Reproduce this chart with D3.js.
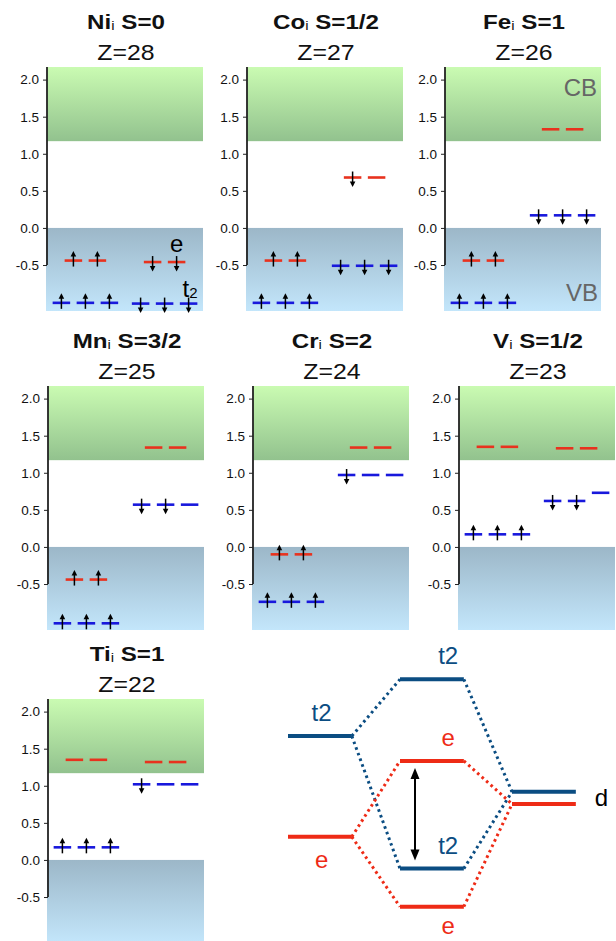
<!DOCTYPE html>
<html>
<head>
<meta charset="utf-8">
<script src="https://cdn.jsdelivr.net/npm/d3@7"></script>
<style>
  body { margin: 0; background: #fff; }
  svg { display: block; font-family: "Liberation Sans", Arial, Helvetica, sans-serif; }
  text { white-space: pre; }
</style>
</head>
<body>
<svg></svg>
<script>
// ---- data ----
const elements = ['Ni', 'Co', 'Fe', 'Mn', 'Cr', 'V', 'Ti'];
const spinLabels = ['0', '1/2', '1', '3/2', '2', '1/2', '1'];
const zValues = [28, 27, 26, 25, 24, 23, 22];

// level energies (eV) per panel
const upT2Energy = [-1.01, -1.01, -1.01, -1.03, -0.74, 0.17, 0.17];
const upEEnergy = [-0.44, -0.44, -0.44, -0.44, -0.10, 1.35, 1.35];
const downT2Energy = [
  [-1.02, -1.02, -1.02],
  [-0.51, -0.51, -0.51],
  [0.17, 0.17, 0.17],
  [0.57, 0.57, 0.57],
  [0.97, 0.97, 0.97],
  [0.62, 0.62, 0.73],
  [1.02, 1.02, 1.02]
];
const downEEnergy = [-0.46, 0.68, 1.33, 1.34, 1.34, 1.33, 1.32];

// number of filled levels (electrons) per group
const upT2Filled = [3, 3, 3, 3, 3, 3, 3];
const upEFilled = [2, 2, 2, 2, 2, 0, 0];
const downT2Filled = [3, 3, 3, 2, 1, 2, 1];
const downEFilled = [2, 1, 0, 0, 0, 0, 0];

const vbTop = 0.0;
const cbBottom = 1.17;
const yDomain = [-1.12, 2.17];
const yTicks = [2.0, 1.5, 1.0, 0.5, 0.0, -0.5];

// schematic MO diagram
const diagKind = ['t2', 'e', 't2', 'e', 't2', 'e', 't2', 'e'];
const diagColumn = [0, 0, 1, 1, 1, 1, 2, 2];
const diagEnergy = [6.8, 3.44, 8.69, 5.97, 2.38, 1.11, 4.94, 4.53];
const diagText = ['t2', 'e', 't2', 'e', 't2', 'e', 'd', ''];
const diagLinks = [[0, 2], [0, 4], [2, 6], [4, 6], [1, 3], [1, 5], [3, 7], [5, 7]];

// ---- layout ----
const svg = d3.select('svg').attr('width', 616).attr('height', 941);

const panelW = 156, panelH = 244;
const panelLeft = [47, 247, 445, 48, 253, 459, 48];
const panelTop = [67, 67, 67, 386, 386, 386, 699];
const upT2Slot = [0.6, 1.6, 2.6], upESlot = [1.1, 2.1];
const downT2Slot = [3.9, 4.9, 5.9], downESlot = [4.4, 5.4];
const levelHalf = 0.365;

const red = '#e8321e', blue = '#1818dc';

const defs = svg.append('defs');
const cbGrad = defs.append('linearGradient').attr('id', 'cbGrad')
  .attr('x1', 0).attr('y1', 0).attr('x2', 0).attr('y2', 1);
cbGrad.append('stop').attr('offset', '0%').attr('stop-color', '#cafbb2');
cbGrad.append('stop').attr('offset', '100%').attr('stop-color', '#92c28e');
const vbGrad = defs.append('linearGradient').attr('id', 'vbGrad')
  .attr('x1', 0).attr('y1', 0).attr('x2', 0).attr('y2', 1);
vbGrad.append('stop').attr('offset', '0%').attr('stop-color', '#9cb7c8');
vbGrad.append('stop').attr('offset', '100%').attr('stop-color', '#c3e6fb');

function electron(g, cx, cy, dir) {
  // dir = 1 for spin up, -1 for spin down
  const tail = cy + 6 * dir, tip = cy - 9.5 * dir;
  g.append('line')
    .attr('x1', cx).attr('x2', cx)
    .attr('y1', tail).attr('y2', tip + 3 * dir)
    .attr('stroke', '#000').attr('stroke-width', 1.5);
  g.append('path')
    .attr('d', `M${cx},${tip} L${cx - 2.8},${tip + 5.5 * dir} L${cx + 2.8},${tip + 5.5 * dir} Z`)
    .attr('fill', '#000');
}

elements.forEach((el, i) => {
  const g = svg.append('g')
    .attr('transform', `translate(${panelLeft[i]}, ${panelTop[i]})`);

  const x = d3.scaleLinear().domain([0, 6.5]).range([0, panelW]);
  const y = d3.scaleLinear().domain(yDomain).range([panelH, 0]);

  // bands
  g.append('rect')
    .attr('x', 0).attr('y', y(yDomain[1]))
    .attr('width', panelW).attr('height', y(cbBottom) - y(yDomain[1]))
    .attr('fill', 'url(#cbGrad)');
  g.append('rect')
    .attr('x', -1).attr('y', y(vbTop))
    .attr('width', panelW + 1).attr('height', y(yDomain[0]) - y(vbTop))
    .attr('fill', 'url(#vbGrad)');

  // axis
  const yAxis = d3.axisLeft(y)
    .tickValues(yTicks)
    .tickSize(4)
    .tickPadding(4)
    .tickFormat(d => d3.format('.1f')(d).replace('\u2212', '-'));
  const yAxisG = g.append('g').call(yAxis);
  yAxisG.select('.domain').remove();
  yAxisG.selectAll('.tick line').attr('stroke', '#222');
  yAxisG.selectAll('.tick text')
    .attr('font-size', 13.5)
    .attr('font-family', '"Liberation Sans", Arial, sans-serif')
    .attr('fill', '#111');
  g.append('line')
    .attr('x1', 0).attr('x2', 0)
    .attr('y1', y(yDomain[1])).attr('y2', y(-0.5))
    .attr('stroke', '#222').attr('stroke-width', 1.8);

  // levels
  const levels = [];
  upT2Slot.forEach((s, k) => levels.push({ s, e: upT2Energy[i], c: blue, occ: k < upT2Filled[i], dir: 1 }));
  upESlot.forEach((s, k) => levels.push({ s, e: upEEnergy[i], c: red, occ: k < upEFilled[i], dir: 1 }));
  downT2Slot.forEach((s, k) => levels.push({ s, e: downT2Energy[i][k], c: blue, occ: k < downT2Filled[i], dir: -1 }));
  downESlot.forEach((s, k) => levels.push({ s, e: downEEnergy[i], c: red, occ: k < downEFilled[i], dir: -1 }));

  g.selectAll('line.level')
    .data(levels)
    .enter().append('line')
    .attr('class', 'level')
    .attr('x1', d => x(d.s - levelHalf))
    .attr('x2', d => x(d.s + levelHalf))
    .attr('y1', d => y(d.e))
    .attr('y2', d => y(d.e))
    .attr('stroke', d => d.c)
    .attr('stroke-width', 2.6);

  levels.filter(d => d.occ).forEach(d => electron(g, x(d.s), y(d.e), d.dir));

  // titles
  const title = g.append('text')
    .attr('transform', `translate(${panelW / 2 + 1}, -38) scale(1.15, 1)`)
    .attr('text-anchor', 'middle')
    .attr('font-size', 21)
    .attr('font-weight', 'bold')
    .attr('fill', '#111');
  title.append('tspan').text(el);
  title.append('tspan').attr('font-size', 13).attr('font-weight', 'normal').attr('dy', 1).text('i');
  title.append('tspan').attr('dy', -1).text(' S=' + spinLabels[i]);

  g.append('text')
    .attr('transform', `translate(${panelW / 2 + 1}, -7) scale(1.13, 1)`)
    .attr('text-anchor', 'middle')
    .attr('font-size', 22)
    .attr('fill', '#111')
    .text('Z=' + zValues[i]);

  if (i === 0) {
    g.append('text')
      .attr('x', x(downESlot[1])).attr('y', y(downEEnergy[i]) - 10)
      .attr('text-anchor', 'middle')
      .attr('font-size', 24)
      .text('e');
    const t2 = g.append('text')
      .attr('x', x(downT2Slot[2]) - 6).attr('y', y(downT2Energy[i][2]) - 7)
      .attr('font-size', 24);
    t2.append('tspan').text('t');
    t2.append('tspan').attr('font-size', 15).attr('dy', 1).text('2');
  }
  if (i === 2) {
    g.append('text')
      .attr('x', panelW - 4).attr('y', y(1.78))
      .attr('text-anchor', 'end')
      .attr('font-size', 24)
      .attr('fill', '#666')
      .text('CB');
    g.append('text')
      .attr('x', panelW - 3).attr('y', y(-0.99))
      .attr('text-anchor', 'end')
      .attr('font-size', 24)
      .attr('fill', '#666')
      .text('VB');
  }
});

// ---- MO diagram ----
const xd = d3.scaleLinear().domain([0, 3]).range([288, 624]);
const yd = d3.scaleLinear().domain([0, 10]).range([940, 640]);
const levelLen = 0.57;
const diagColor = k => k === 't2' ? '#0b4d82' : '#ee2b16';

const diag = svg.append('g');

diag.selectAll('line.link')
  .data(diagLinks)
  .enter().append('line')
  .attr('class', 'link')
  .attr('x1', d => xd(diagColumn[d[0]] + levelLen))
  .attr('y1', d => yd(diagEnergy[d[0]]))
  .attr('x2', d => xd(diagColumn[d[1]]))
  .attr('y2', d => yd(diagEnergy[d[1]]))
  .attr('stroke', d => diagColor(diagKind[d[0]]))
  .attr('stroke-width', 3)
  .attr('stroke-dasharray', '2.6 3.4');

diag.selectAll('line.dlevel')
  .data(diagEnergy)
  .enter().append('line')
  .attr('class', 'dlevel')
  .attr('x1', (d, k) => xd(diagColumn[k]))
  .attr('x2', (d, k) => xd(diagColumn[k] + levelLen))
  .attr('y1', d => yd(d))
  .attr('y2', d => yd(d))
  .attr('stroke', (d, k) => diagColor(diagKind[k]))
  .attr('stroke-width', 4);

// labels
const labelSide = ['above', 'below', 'above', 'above', 'above', 'below', 'right', 'none'];
const belowGap = [0, 31, 0, 0, 0, 27, 0, 0];
diagEnergy.forEach((en, k) => {
  if (labelSide[k] === 'none') return;
  const col = diagColumn[k];
  let lx = col === 0 ? xd(col + 0.3) : xd(col + 0.43);
  let ly = labelSide[k] === 'above' ? yd(en) - 15 : yd(en) + belowGap[k];
  let anchor = 'middle', fill = diagColor(diagKind[k]);
  if (labelSide[k] === 'right') {
    lx = xd(col + levelLen) + 19;
    ly = (yd(diagEnergy[k]) + yd(diagEnergy[k + 1])) / 2 + 8;
    anchor = 'start';
    fill = '#000';
  }
  diag.append('text')
    .attr('x', lx).attr('y', ly)
    .attr('text-anchor', anchor)
    .attr('font-size', 24)
    .attr('fill', fill)
    .text(diagText[k]);
});

// double arrow for the splitting between e and t2
const ax = xd(1) + 15;
const aTop = yd(diagEnergy[3]) + 7, aBot = yd(diagEnergy[4]) - 8;
diag.append('line')
  .attr('x1', ax).attr('x2', ax)
  .attr('y1', aTop + 6).attr('y2', aBot - 6)
  .attr('stroke', '#000').attr('stroke-width', 2);
diag.append('path')
  .attr('d', `M${ax},${aTop} L${ax - 4.5},${aTop + 11} L${ax + 4.5},${aTop + 11} Z`)
  .attr('fill', '#000');
diag.append('path')
  .attr('d', `M${ax},${aBot} L${ax - 4.5},${aBot - 11} L${ax + 4.5},${aBot - 11} Z`)
  .attr('fill', '#000');
</script>
</body>
</html>
